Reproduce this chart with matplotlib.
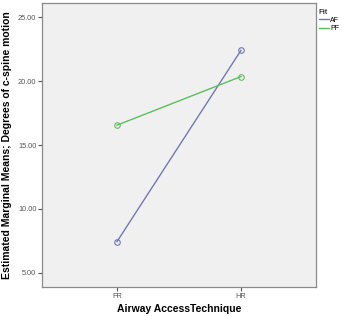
import matplotlib
matplotlib.use("Agg")
import matplotlib.pyplot as plt

techniques = ["FR", "HR"]
fit_groups = ["AF", "PF"]
af_means = [7.45, 22.4]
pf_means = [16.55, 20.35]
yticks = [5, 10, 15, 20, 25]

colors = {"AF": "#7478b4", "PF": "#5cbf5c"}

plt.rcParams["font.family"] = ["Liberation Sans", "DejaVu Sans"]

fig = plt.figure(figsize=(3.42, 3.16), dpi=100)
ax = fig.add_axes([42 / 342, 1 - 287 / 316, (316 - 42) / 342, (287 - 3) / 316])
ax.set_facecolor("#f0f0f0")

x = list(range(len(techniques)))
for name, vals in zip(fit_groups, [af_means, pf_means]):
    ax.plot(x, vals, color=colors[name], lw=1.0, marker="o", ms=4,
            mfc="none", mec=colors[name], mew=0.8, label=name)

ax.set_xlim(-0.605, 1.605)
ax.set_ylim(3.9, 26.1)
ax.set_xticks(x)
ax.set_xticklabels(techniques)
ax.set_yticks(yticks)
ax.set_yticklabels([f"{v:.2f}" for v in yticks])
ax.tick_params(labelsize=5.3, colors="#555555", length=3, width=0.8, pad=1)
for s in ax.spines.values():
    s.set_color("#8a8a8a")
    s.set_linewidth(0.9)

ax.set_ylabel("Estimated Marginal Means; Degrees of c-spine motion",
              fontsize=7.5, fontweight="bold", labelpad=4)
ax.set_xlabel("Airway AccessTechnique", fontsize=7.5, fontweight="bold", labelpad=3.5)

leg = fig.legend(loc="upper left", bbox_to_anchor=(314 / 342, 1 - 4 / 316),
                 title="Fit", fontsize=5, title_fontsize=6, frameon=False,
                 handlelength=1.4, handletextpad=0.2, labelspacing=0.15,
                 borderpad=0.2, markerscale=0)
leg._legend_box.align = "left"
for h in leg.legend_handles:
    h.set_marker("")

fig.savefig("out.png", dpi=100)
